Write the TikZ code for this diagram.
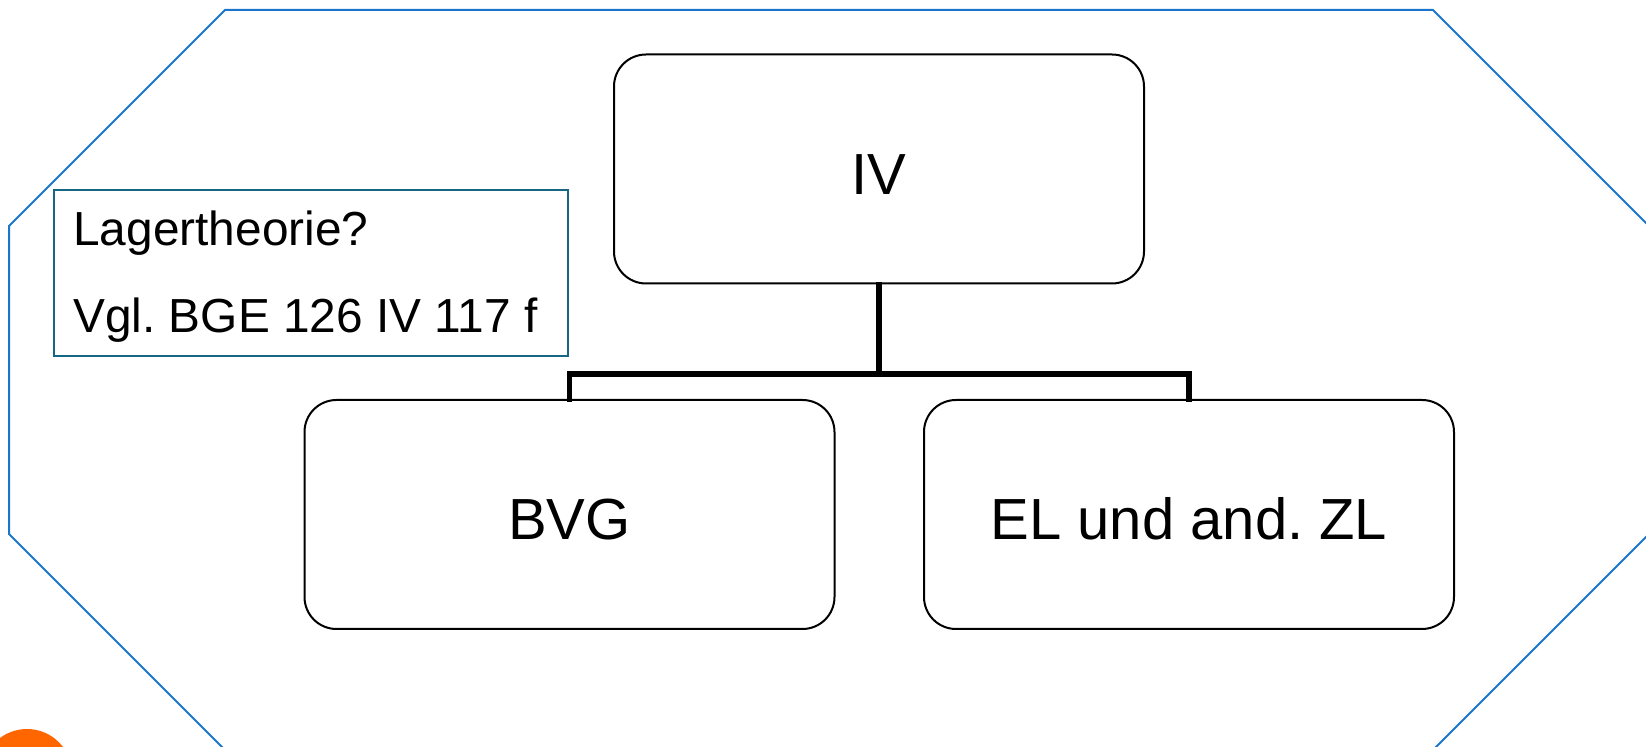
\documentclass[tikz,border=0pt]{standalone}
\usepackage{fontspec}
\setmainfont{Liberation Sans}
\frenchspacing
\definecolor{octblue}{RGB}{28,117,204}
\definecolor{tealbox}{RGB}{22,102,132}
\definecolor{orng}{RGB}{255,102,0}
\begin{document}
\begin{tikzpicture}[x=0.5pt,y=-0.5pt,
  orgbox/.style={draw=black,line width=1pt,rounded corners=16pt,minimum width=265pt,minimum height=114.5pt,inner sep=0pt,fill=white},
  bigtext/.style={font=\fontsize{29}{34}\selectfont},
  smalltext/.style={font=\fontsize{23.9}{28}\selectfont,anchor=base west,inner sep=0pt},
  conn/.style={draw=black,line width=2.6pt,line cap=rect,line join=miter}]
\useasboundingbox (0,0) rectangle (1646,747);
% octagon
\draw[octblue,line width=1pt,line join=miter]
  (225,10) -- (1433,10) -- (1649,226) -- (1649,534) -- (1433,750) -- (225,750) -- (9,534) -- (9,226) -- cycle;
% orange circle
\fill[orng] (27,774) circle (45);
% note box
\node[draw=tealbox,line width=1.2pt,minimum width=257pt,minimum height=83pt,inner sep=0pt] (note) at (311,273) {};
\node[smalltext] (t1) at (73,246) {Lagertheorie?};
\node[smalltext] (t2) at (73,333) {Vgl.\ BGE 126 IV 117 f};
% boxes
\node[orgbox] (iv) at (879,169) {};
\node[orgbox] (bvg) at (569.5,514.5) {};
\node[orgbox] (el) at (1189,514.5) {};
\node[bigtext,anchor=base,inner sep=0pt] (ivt) at (879,195) {IV};
\node[bigtext,anchor=base,inner sep=0pt] (bvgt) at (569.5,540) {BVG};
\node[bigtext,anchor=base,inner sep=0pt] (elt) at (1189,540) {EL und and.\ ZL};
% connectors
\coordinate (j) at (879,374);
\draw[conn] (iv.south) -- (j);
\draw[conn] (bvg.north) |- (j) -| (el.north);
\end{tikzpicture}
\end{document}
